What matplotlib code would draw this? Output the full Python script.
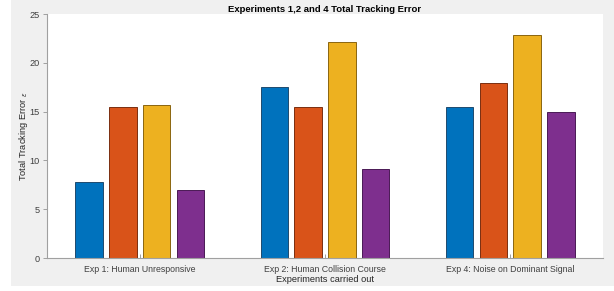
import numpy as np
import matplotlib
matplotlib.use('Agg')
import matplotlib.pyplot as plt
from matplotlib.patches import Rectangle

plt.rcParams['font.family'] = ['Liberation Sans', 'DejaVu Sans']

experiments = ['Exp 1: Human Unresponsive', 'Exp 2: Human Collision Course',
               'Exp 4: Noise on Dominant Signal']
# one list per bar colour, values per experiment
series_a = [7.82, 17.49, 15.44]
series_b = [15.44, 15.44, 17.90]
series_c = [15.71, 22.13, 22.85]
series_d = [6.93, 9.15, 14.93]
yticks = [0, 5, 10, 15, 20, 25]

colors = ['#0072BD', '#D95319', '#EDB120', '#7E2F8E']
edges = ['#1f4a6e', '#7a2e10', '#8a6510', '#4a1a55']

fig = plt.figure(figsize=(6.14, 2.91), dpi=100, facecolor='white')
fig.patches.append(Rectangle((11 / 614, 5 / 291), 1 - 11 / 614, 1 - 5 / 291,
                             transform=fig.transFigure, facecolor='#f0f0f0',
                             edgecolor='none', zorder=-10))

ax = fig.add_axes([47 / 614, 33 / 291, 556 / 614, 244 / 291])
ax.set_facecolor('white')

x = np.arange(1, len(experiments) + 1)
step = 0.182
width = 0.148
all_series = [series_a, series_b, series_c, series_d]
for i, vals in enumerate(all_series):
    off = (i - 1.5) * step
    ax.bar(x + off, vals, width, color=colors[i], edgecolor=edges[i],
           linewidth=0.7, zorder=2)

ax.set_xlim(0.5, 3.5)
ax.set_ylim(0, 25)
ax.set_yticks(yticks)
ax.set_xticks(x)
ax.set_xticklabels(experiments)

for s in ['top', 'right']:
    ax.spines[s].set_visible(False)
for s in ['left', 'bottom']:
    ax.spines[s].set_color('#a0a0a0')
    ax.spines[s].set_linewidth(0.8)

ax.tick_params(axis='y', direction='out', length=3, width=0.7, color='#a0a0a0',
               labelsize=6.6, labelcolor='#404040', pad=2)
ax.tick_params(axis='x', direction='in', length=3, width=0.7, color='#a0a0a0',
               labelsize=6.3, labelcolor='#404040', pad=5)

ax.set_title('Experiments 1,2 and 4 Total Tracking Error', fontsize=6.8,
             fontweight='bold', pad=1.5)
ax.set_xlabel('Experiments carried out', fontsize=6.7, color='#262626', labelpad=1)
ax.set_ylabel('Total Tracking Error $_{\\epsilon}$', fontsize=6.7, color='#262626')
ax.yaxis.set_label_coords(-0.031, 0.5)

fig.savefig('out.png', dpi=100, facecolor=fig.get_facecolor())
